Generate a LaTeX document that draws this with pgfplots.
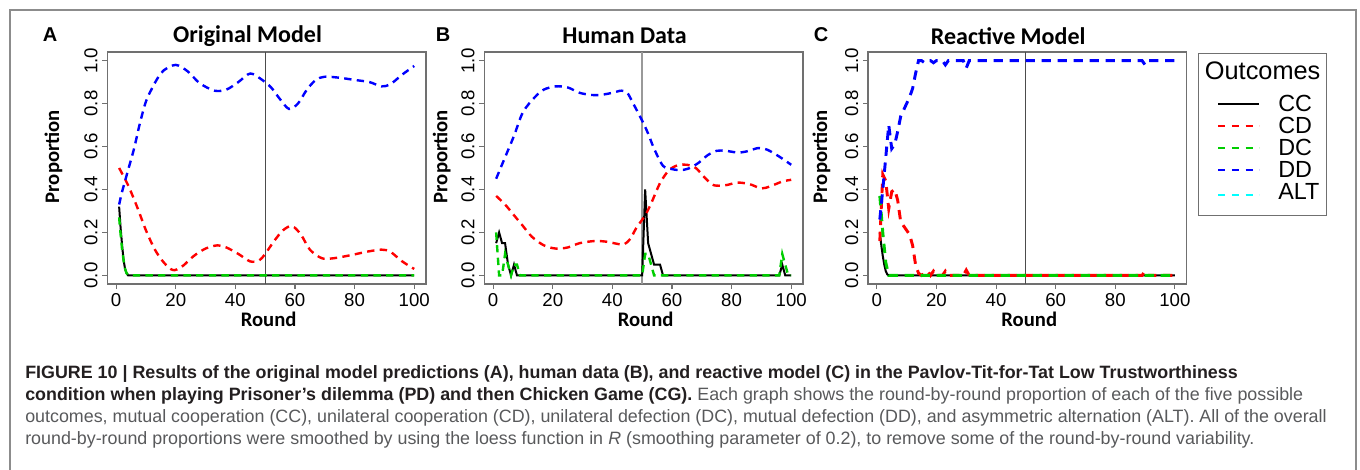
\documentclass[border=0pt]{standalone}
\usepackage{fontspec}
\setmainfont{Liberation Sans}
\newfontfamily\cali{Carlito}
\usepackage{pgfplots}
\pgfplotsset{compat=1.18}
\definecolor{rred}{HTML}{FF0000}
\definecolor{rgreen}{HTML}{00CD00}
\definecolor{rblue}{HTML}{0000FF}
\definecolor{rcyan}{HTML}{00FFFF}
\definecolor{framegray}{HTML}{8C8C8C}
\definecolor{boxgray}{HTML}{707070}
\definecolor{captdark}{HTML}{231F20}
\definecolor{captgray}{HTML}{58595B}

\pgfplotsset{
  rpanel/.style={
    scale only axis, width=239pt, height=174pt,
    xmin=-2.96, xmax=103.96, ymin=-0.04, ymax=1.04,
    xtick={0,20,40,60,80,100}, ytick={0,0.2,0.4,0.6,0.8,1},
    tick align=outside, xtick pos=bottom, ytick pos=left,
    major tick length=3.75pt,
    axis line style={draw=boxgray, line width=0.8pt},
    tick style={draw=boxgray, line width=0.8pt},
    /pgf/number format/assume math mode=true,
    ticklabel style={font=\fontsize{14}{14}\selectfont},
    yticklabel style={rotate=90, anchor=south,
      /pgf/number format/.cd, fixed, fixed zerofill, precision=1},
    xlabel={Round}, ylabel={Proportion},
    every axis x label/.style={at={(axis description cs:0.506,-0.152)},
      anchor=center, font=\cali\bfseries\fontsize{15.5}{16}\selectfont},
    every axis y label/.style={rotate=90, anchor=center,
      font=\cali\bfseries\fontsize{15.5}{16}\selectfont},
    every axis title/.style={at={(axis description cs:0.44,1.068)},
      anchor=center, font=\cali\bfseries\fontsize{18}{18}\selectfont},
  },
  cc/.style={black, line width=1.5pt},
  abd/.style={line width=1.8pt, dash pattern=on 5.5pt off 4pt, smooth, tension=0.5},
  cd/.style={line width=2.2pt, dash pattern=on 7pt off 5pt},
}

\begin{document}
\begin{tikzpicture}
\path[use as bounding box] (0,0) rectangle (1020pt,351.75pt);
\draw[framegray, line width=1.1pt] (7.5pt,-3pt) -- (7.5pt,344.25pt) -- (1017pt,344.25pt) -- (1017pt,-3pt);

% panel A
\begin{axis}[rpanel, at={(80.5pt,138.75pt)}, anchor=south west,
  title={Original Model},
  ylabel style={at={(axis description cs:-0.169,0.549)}}]
\addplot[black!70, line width=0.8pt] coordinates {(50,-0.04) (50,1.04)};
\addplot[cc] coordinates {(1,0.32) (1.5,0.22) (2,0.14) (2.5,0.07) (3,0.03) (3.5,0.01) (4,0) (100,0)};
\addplot[rred, abd] coordinates {
(1,0.50) (4,0.42) (7,0.32) (10,0.21) (13,0.12) (16,0.06) (19,0.025) (22,0.04)
(26,0.09) (30,0.125) (34,0.14) (37,0.13) (41,0.10) (45,0.065) (48,0.07) (50,0.10)
(53,0.16) (56,0.21) (59,0.23) (62,0.19) (65,0.12) (69,0.08) (73,0.08) (79,0.095)
(84,0.11) (89,0.12) (92,0.11) (96,0.065) (100,0.03)};
\addplot[rgreen, line width=1.8pt, dash pattern=on 5.5pt off 4pt] coordinates {
(1,0.27) (1.5,0.19) (2,0.12) (2.5,0.07) (3,0.03) (3.5,0.01) (4,0.003) (5,0) (100,0)};
\addplot[rblue, abd] coordinates {
(1,0.33) (2,0.39) (4,0.49) (6,0.59) (8,0.71) (10,0.81) (12,0.87) (14,0.92)
(16,0.955) (20,0.98) (24,0.95) (28,0.895) (33,0.86) (37,0.865) (41,0.90) (45,0.94)
(49,0.91) (52,0.875) (55,0.82) (58,0.775) (61,0.80) (64,0.865) (67,0.91) (70,0.925)
(75,0.92) (80,0.91) (85,0.90) (89,0.88) (92,0.89) (96,0.935) (100,0.975)};
\end{axis}

% panel B
\begin{axis}[rpanel, at={(363.25pt,138.75pt)}, anchor=south west,
  title={Human Data},
  ylabel style={at={(axis description cs:-0.134,0.549)}}]
\addplot[black!40, line width=1.5pt] coordinates {(50,-0.04) (50,1.04)};
\addplot[cc] coordinates {
(1,0.15) (2,0.20) (3,0.15) (4,0.15) (5,0.05) (6,0) (7,0.05) (8,0) (50,0)
(51,0.40) (52,0.15) (53,0.10) (54,0.05) (55,0.05) (56,0.05) (57,0) (96,0)
(97,0.05) (98,0) (100,0)};
\addplot[rred, abd] coordinates {
(1,0.37) (4,0.33) (7,0.28) (10,0.23) (13,0.18) (17,0.14) (21,0.125) (25,0.13)
(29,0.15) (34,0.16) (38,0.157) (42,0.146) (44,0.145) (46,0.17) (48,0.22) (51,0.28)
(53,0.335) (56,0.43) (59,0.49) (62,0.513) (65,0.515) (68,0.50) (71,0.455) (74,0.42)
(78,0.42) (82,0.432) (86,0.425) (90,0.405) (93,0.415) (97,0.437) (100,0.445)};
\addplot[rgreen, line width=1.8pt, dash pattern=on 5.5pt off 4pt] coordinates {
(1,0.20) (2,0) (3,0) (4,0.10) (5,0.05) (6,0) (7,0.05) (8,0.05) (9,0) (50,0)
(51,0.10) (52,0.10) (53,0.05) (54,0) (96,0) (97,0.10) (98,0.05) (99,0) (100,0)};
\addplot[rblue, abd] coordinates {
(1,0.45) (4,0.55) (7,0.65) (10,0.76) (14,0.83) (17,0.865) (21,0.88) (25,0.875)
(29,0.85) (33,0.84) (36,0.84) (40,0.85) (43,0.86) (45,0.85) (47,0.80) (50,0.72)
(52,0.66) (54,0.59) (57,0.51) (60,0.495) (63,0.49) (66,0.50) (69,0.525) (72,0.56)
(75,0.58) (78,0.58) (82,0.572) (85,0.577) (89,0.593) (92,0.585) (96,0.553) (100,0.515)};
\end{axis}

% panel C
\begin{axis}[rpanel, at={(651pt,138.75pt)}, anchor=south west,
  title={Reactive Model},
  ylabel style={at={(axis description cs:-0.146,0.549)}},
  legend image code/.code={\path (0pt,0pt); \draw[#1] (9.25pt,0pt) -- (40pt,0pt);},
  legend cell align=left,
  legend style={at={(1.0368,0.997)}, anchor=north west,
    draw=boxgray, line width=0.8pt, inner xsep=4.5pt, inner ysep=6.5pt,
    font=\fontsize{17.5}{18}\selectfont, row sep=1.5pt, column sep=13.5pt,
    nodes={inner sep=0pt, text height=13pt, text depth=2pt}}]
\addplot[black!70, line width=0.8pt, forget plot] coordinates {(50,-0.04) (50,1.04)};
\addplot[cc, forget plot] coordinates {(1,0.20) (1.5,0.14) (2,0.09) (2.5,0.05) (3,0.02) (3.5,0.005) (4,0) (100,0)};
\addplot[rred, cd, forget plot] coordinates {
(1,0.16) (2,0.47) (3,0.44) (4,0.31) (5,0.39) (6,0.40) (7,0.35) (8,0.25) (9,0.23)
(10,0.21) (11,0.19) (12,0.14) (13,0.05) (14,0.01) (15,0) (17,0.02) (18,0) (19,0.02)
(20,0) (22,0) (23,0.02) (24,0) (29,0) (30,0.025) (31,0) (89,0) (90,0.02) (91,0) (100,0)};
\addplot[rgreen, cd, forget plot] coordinates {
(1,0.37) (2,0.20) (3,0.06) (4,0) (100,0)};
\addplot[rblue, cd, forget plot] coordinates {
(1,0.26) (2,0.40) (3,0.55) (4,0.70) (5,0.59) (6,0.61) (7,0.67) (8,0.74) (9,0.77)
(10,0.80) (11,0.83) (12,0.87) (13,0.94) (14,1.0) (15,1.0) (16,0.99) (17,1.0) (18,1.0)
(19,0.99) (20,1.0) (22,1.0) (23,0.98) (24,1.0) (29,1.0) (30,0.965) (31,1.0) (89,1.0)
(90,0.98) (91,1.0) (100,1.0)};
\addlegendimage{empty legend}
\addlegendentry[text depth=9.5pt, font=\fontsize{19}{19}\selectfont]{\hspace{-55pt}Outcomes}
\addlegendimage{black, line width=1.5pt, solid}
\addlegendentry{CC}
\addlegendimage{rred, line width=1.5pt, dash pattern=on 5.25pt off 5pt}
\addlegendentry{CD}
\addlegendimage{rgreen, line width=1.5pt, dash pattern=on 5.25pt off 5pt}
\addlegendentry{DC}
\addlegendimage{rblue, line width=1.5pt, dash pattern=on 5.25pt off 5pt}
\addlegendentry{DD}
\addlegendimage{rcyan, line width=1.5pt, dash pattern=on 5.25pt off 5pt}
\addlegendentry[text depth=6pt]{ALT}
\end{axis}

% panel letters
\node[font=\bfseries\fontsize{15}{15}\selectfont] at (37.5pt,325.5pt) {A};
\node[font=\bfseries\fontsize{15}{15}\selectfont] at (332.25pt,325.5pt) {B};
\node[font=\bfseries\fontsize{15}{15}\selectfont] at (615.75pt,325.5pt) {C};

% caption
\node[anchor=north west, inner sep=0pt, align=left, font=\fontsize{13.4}{16.3}\selectfont]
  at (18.75pt,77.5pt) {%
\textcolor{captdark}{\bfseries FIGURE 10 | Results of the original model predictions (A), human data (B), and reactive model (C) in the Pavlov-Tit-for-Tat Low Trustworthiness}\\
\textcolor{captdark}{\bfseries condition when playing Prisoner’s dilemma (PD) and then Chicken Game (CG).} \textcolor{captgray}{Each graph shows the round-by-round proportion of each of the five possible}\\
\textcolor{captgray}{outcomes, mutual cooperation (CC), unilateral cooperation (CD), unilateral defection (DC), mutual defection (DD), and asymmetric alternation (ALT). All of the overall}\\
\textcolor{captgray}{round-by-round proportions were smoothed by using the loess function in \textit{R} (smoothing parameter of 0.2), to remove some of the round-by-round variability.}};
\end{tikzpicture}
\end{document}
